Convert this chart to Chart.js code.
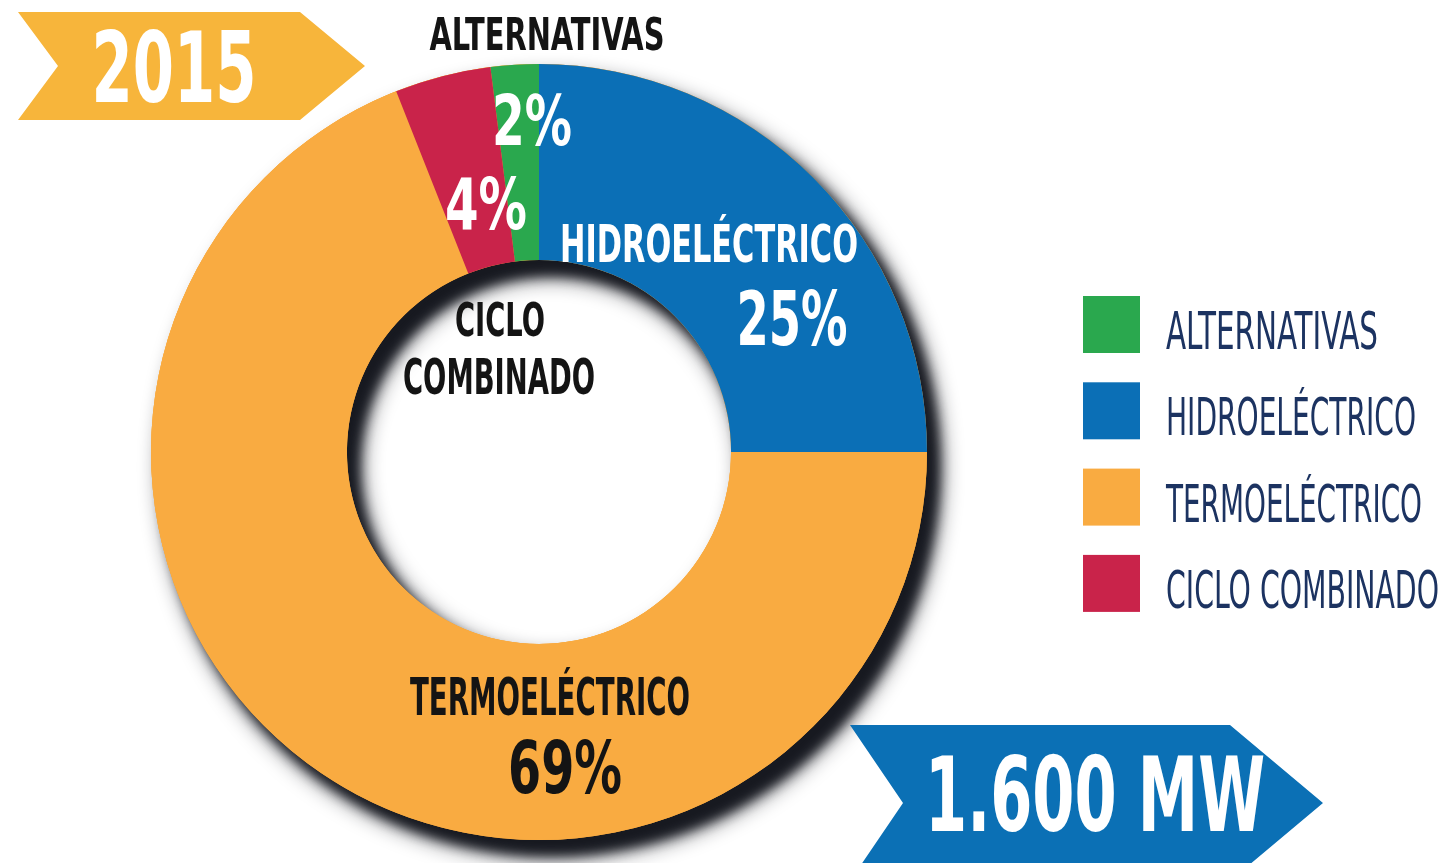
<!DOCTYPE html>
<html>
<head>
<meta charset="utf-8">
<script src="https://cdn.jsdelivr.net/npm/chart.js@4.4.0/dist/chart.umd.min.js"></script>
<style>
    html, body { margin: 0; padding: 0; background: #fff; }
    #wrap { width: 1447px; height: 863px; position: relative; }
</style>
</head>
<body>
<div id="wrap"><canvas id="mixChart" width="1447" height="863"></canvas></div>
<script>
// chart data (legend order, clockwise from the top)
const categories = ['ALTERNATIVAS', 'HIDROELÉCTRICO', 'TERMOELÉCTRICO', 'CICLO COMBINADO'];
const shares = [2, 25, 69, 4];
const sliceColors = ['#2aa84e', '#0b6fb6', '#f9ab41', '#c9234a'];
const yearLabel = '2015';
const capacityLabel = '1.600 MW';

// text placement, offsets from the donut centre
const nameLayout = [
    { lines: [{ dx: 8, dy: -402, cap: 33, w: 235 }], color: '#141414' },
    { lines: [{ dx: 170, dy: -190, cap: 38, w: 298 }], color: '#ffffff' },
    { lines: [{ dx: 11, dy: 263, cap: 37, w: 280 }], color: '#141414' },
    { lines: [{ dx: -39, dy: -116, cap: 34, w: 90 }, { dx: -40, dy: -58, cap: 36, w: 192 }], color: '#141414' }
];
const pctLayout = [
    { dx: -7, dy: -307, cap: 50, w: 80, color: '#ffffff' },
    { dx: 253, dy: -107, cap: 55, w: 111, color: '#ffffff' },
    { dx: 26, dy: 341, cap: 53, w: 114, color: '#141414' },
    { dx: -53, dy: -223, cap: 52, w: 82, color: '#ffffff' }
];
const legendWidths = [212, 250, 256, 273];

const BOLD = 'bold';
const FAMILY = '"DejaVu Sans Condensed", "DejaVu Sans", sans-serif';

function fitText(ctx, str, x, baseY, cap, width, color, weight, align) {
    const size = cap / 0.729;
    ctx.save();
    ctx.font = `${weight} ${size}px ${FAMILY}`;
    const w = ctx.measureText(str).width;
    ctx.translate(x, baseY);
    ctx.scale(width / w, 1);
    ctx.textAlign = align || 'center';
    ctx.textBaseline = 'alphabetic';
    ctx.fillStyle = color;
    ctx.fillText(str, 0, 0);
    ctx.restore();
}

function polygon(ctx, pts, color) {
    ctx.beginPath();
    ctx.moveTo(pts[0][0], pts[0][1]);
    for (let i = 1; i < pts.length; i++) ctx.lineTo(pts[i][0], pts[i][1]);
    ctx.closePath();
    ctx.fillStyle = color;
    ctx.fill();
}

// dark drop shadow under the ring (shows inside the hole too)
const ringShadow = {
    id: 'ringShadow',
    beforeDatasetsDraw(chart) {
        const arc = chart.getDatasetMeta(0).data[0];
        const ctx = chart.ctx;
        ctx.save();
        ctx.shadowColor = 'rgba(22,24,32,0.95)';
        ctx.shadowOffsetX = 12;
        ctx.shadowOffsetY = 15;
        [22, 12].forEach(blur => {
            ctx.shadowBlur = blur;
            ctx.beginPath();
            ctx.arc(arc.x, arc.y, arc.outerRadius, 0, Math.PI * 2);
            ctx.arc(arc.x, arc.y, arc.innerRadius, 0, Math.PI * 2, true);
            ctx.fillStyle = sliceColors[2];
            ctx.fill();
        });
        ctx.restore();
    }
};

const decorations = {
    id: 'decorations',
    afterDraw(chart) {
        const ctx = chart.ctx;
        const arc = chart.getDatasetMeta(0).data[0];
        const cx = arc.x, cy = arc.y;

        // slice names and percentages
        categories.forEach((name, i) => {
            const lay = nameLayout[i];
            const parts = lay.lines.length > 1 ? name.split(' ') : [name];
            lay.lines.forEach((ln, j) => {
                fitText(ctx, parts[j], cx + ln.dx, cy + ln.dy, ln.cap, ln.w, lay.color, BOLD);
            });
            const p = pctLayout[i];
            fitText(ctx, shares[i] + '%', cx + p.dx, cy + p.dy, p.cap, p.w, p.color, BOLD);
        });

        // year banner
        polygon(ctx, [[18, 12], [300, 12], [365, 66], [300, 120], [18, 120], [58, 66]], '#f7b53b');
        fitText(ctx, yearLabel, 174, 102, 72, 165, '#ffffff', BOLD);

        // capacity banner
        polygon(ctx, [[850, 725], [1230, 725], [1323, 803], [1230, 881], [850, 881], [903, 803]], '#0b70b5');
        fitText(ctx, capacityLabel, 1095, 831, 75, 340, '#ffffff', BOLD);

        // legend
        categories.forEach((name, i) => {
            const top = 296 + i * 86.3;
            ctx.fillStyle = sliceColors[i];
            ctx.fillRect(1083, top, 57, 57);
            fitText(ctx, name, 1166, top + 53, 37, legendWidths[i], '#1c3361', 'normal', 'left');
        });
    }
};

new Chart(document.getElementById('mixChart'), {
    type: 'doughnut',
    data: {
        labels: categories,
        datasets: [{
            data: shares,
            backgroundColor: sliceColors,
            borderWidth: 0,
            hoverOffset: 0,
            offset: 0
        }]
    },
    options: {
        responsive: false,
        animation: false,
        events: [],
        rotation: -shares[0] * 3.6,
        cutout: '49.5%',
        layout: { padding: { left: 151, right: 520, top: 64, bottom: 23 } },
        plugins: {
            legend: { display: false },
            tooltip: { enabled: false }
        }
    },
    plugins: [ringShadow, decorations]
});
</script>
</body>
</html>
